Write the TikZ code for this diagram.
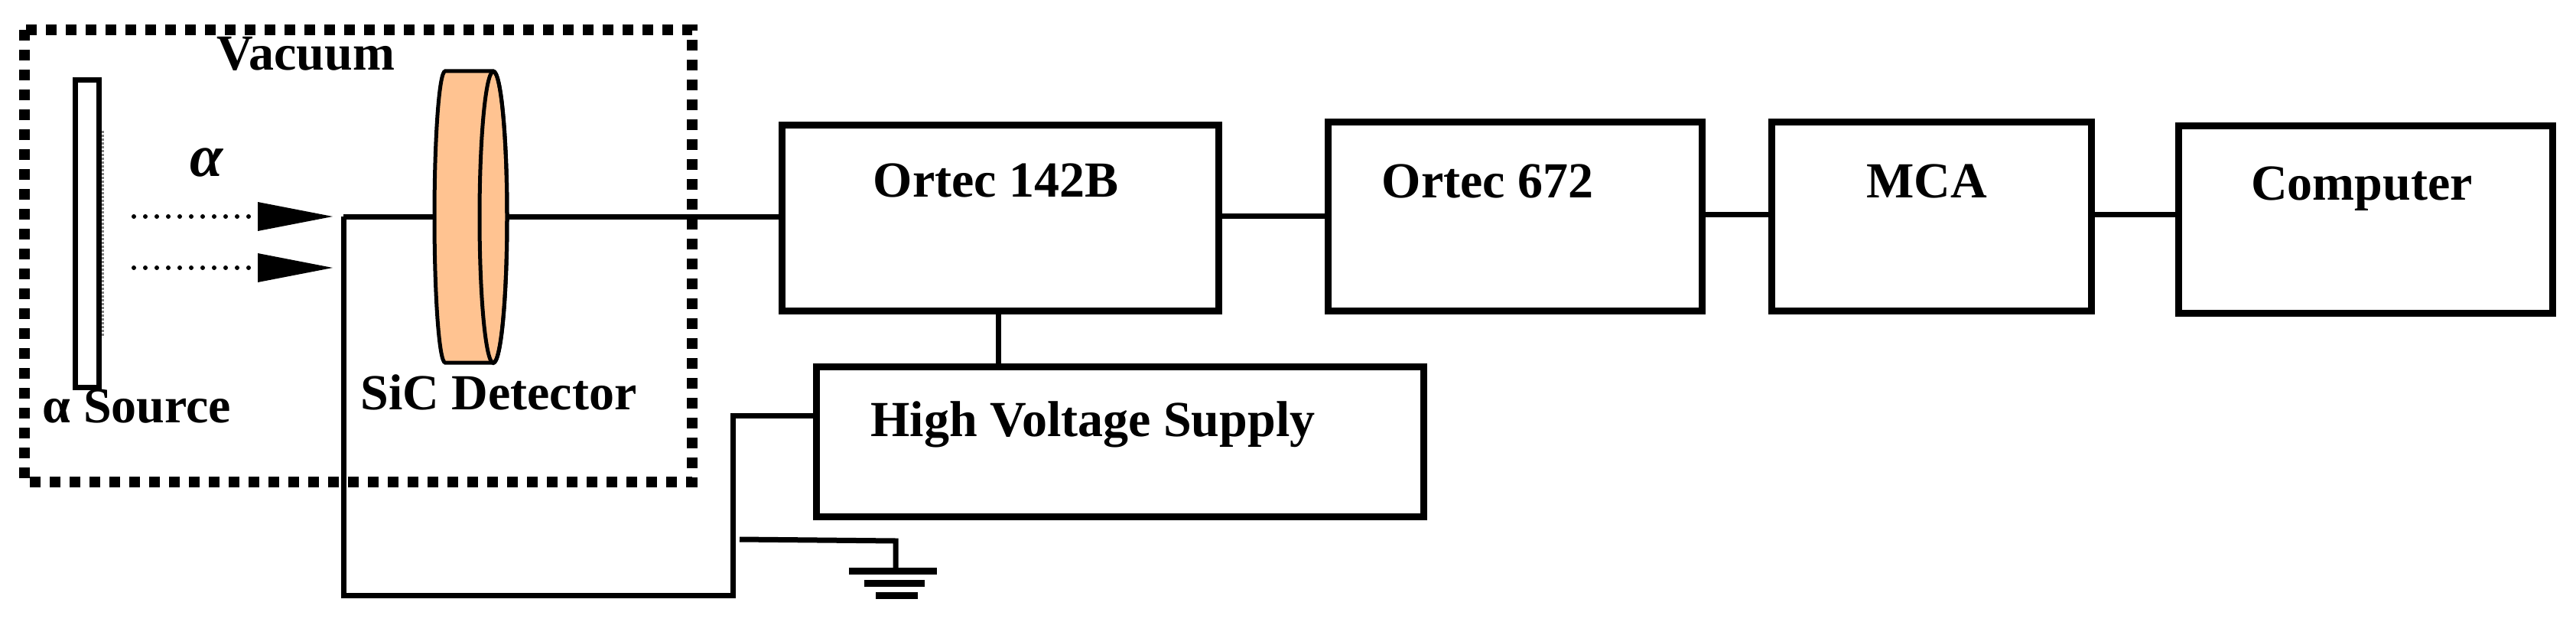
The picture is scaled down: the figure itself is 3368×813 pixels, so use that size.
\documentclass[tikz,border=0pt]{standalone}
\usepackage{fontspec}
\setmainfont{Liberation Serif}
\begin{document}
\begin{tikzpicture}[x=1pt,y=-1pt,
  box/.style={draw,line width=9pt,rectangle,inner sep=0pt},
  lbl/.style={font=\fontsize{66}{74}\selectfont\bfseries,inner sep=0pt},
  wire/.style={line width=7pt}]
\useasboundingbox (0,0) rectangle (3368,813);
% vacuum box
\draw[line width=14pt,dash pattern=on 14pt off 12pt] (32,39) rectangle (905,630);
\node[lbl] (vac) at (400,70) {Vacuum};
% source
\node[box,line width=7pt,minimum width=31pt,minimum height=402pt,anchor=north west] (src) at (95,101) {};
\draw[gray,line width=3pt,dotted] (134,171) -- (134,441);
\node[lbl,font=\fontsize{78}{86}\selectfont\bfseries\itshape] (alab) at (270,213) {α};
\node[lbl] (srcl) at (179,531) {α Source};
% wires
\coordinate (tip1) at (449,283);
\coordinate (lb) at (449,778);
\coordinate (rb) at (958,778);
\coordinate (hvw) at (958,543);
% boxes
\node[box,minimum width=571pt,minimum height=243pt,anchor=north west] (o142) at (1018,159) {};
\node[box,minimum width=489pt,minimum height=247pt,anchor=north west] (o672) at (1732,155) {};
\node[box,minimum width=418pt,minimum height=247pt,anchor=north west] (mca) at (2312,155) {};
\node[box,minimum width=489pt,minimum height=245pt,anchor=north west] (comp) at (2844,160) {};
\node[box,minimum width=794pt,minimum height=196pt,anchor=north west] (hv) at (1063,475) {};
\node[lbl] at (1302,236) (t142) {Ortec 142B};
\node[lbl] at (1945,237) (t672) {Ortec 672};
\node[lbl] at (2519,237) (tmca) {MCA};
\node[lbl] at (3088,247) (tcomp) {Computer};
\node[lbl] at (1429,555) (thv) {High Voltage Supply};
\draw[wire] (tip1) -- (o142.west |- tip1);
\draw[wire] (o142.east |- 0,282) -- (o672.west |- 0,282);
\draw[wire] (o672.east |- 0,280) -- (mca.west |- 0,280);
\draw[wire] (mca.east |- 0,280) -- (comp.west |- 0,280);
\draw[wire] (o142.south -| 1305,0) -- (hv.north -| 1305,0);
\draw[wire] (tip1) -- (lb) -- (rb) -- (hvw) -- (hv.west |- hvw);
% ground
\coordinate (g1) at (967,705);
\coordinate (g2) at (1171,707);
\coordinate (g3) at (1171,746);
\draw[wire] (g1) -- (g2) -- (g3);
\draw[line width=9pt] (1110,746) -- (1225,746);
\draw[line width=9pt] (1130,762) -- (1209,762);
\draw[line width=9pt] (1145,778) -- (1200,778);
% detector
\draw[line width=5pt,fill={rgb,255:red,255;green,195;blue,145}]
  (645,93) -- (582,93) arc[start angle=270,end angle=90,x radius=14,y radius=190.5] -- (645,474)
  arc[start angle=90,end angle=-90,x radius=18,y radius=190.5] -- cycle;
\draw[line width=5pt] (645,284) ellipse[x radius=18,y radius=190.5];
\node[lbl] (sic) at (652,513) {SiC Detector};
% alpha arrows
\foreach \yy in {283,350}{
  \draw[line width=6pt,dash pattern=on 0pt off 15pt,line cap=round] (175,\yy) -- (337,\yy);
  \fill (337,\yy-19) -- (435,\yy) -- (337,\yy+19) -- cycle;
}
\end{tikzpicture}
\end{document}
